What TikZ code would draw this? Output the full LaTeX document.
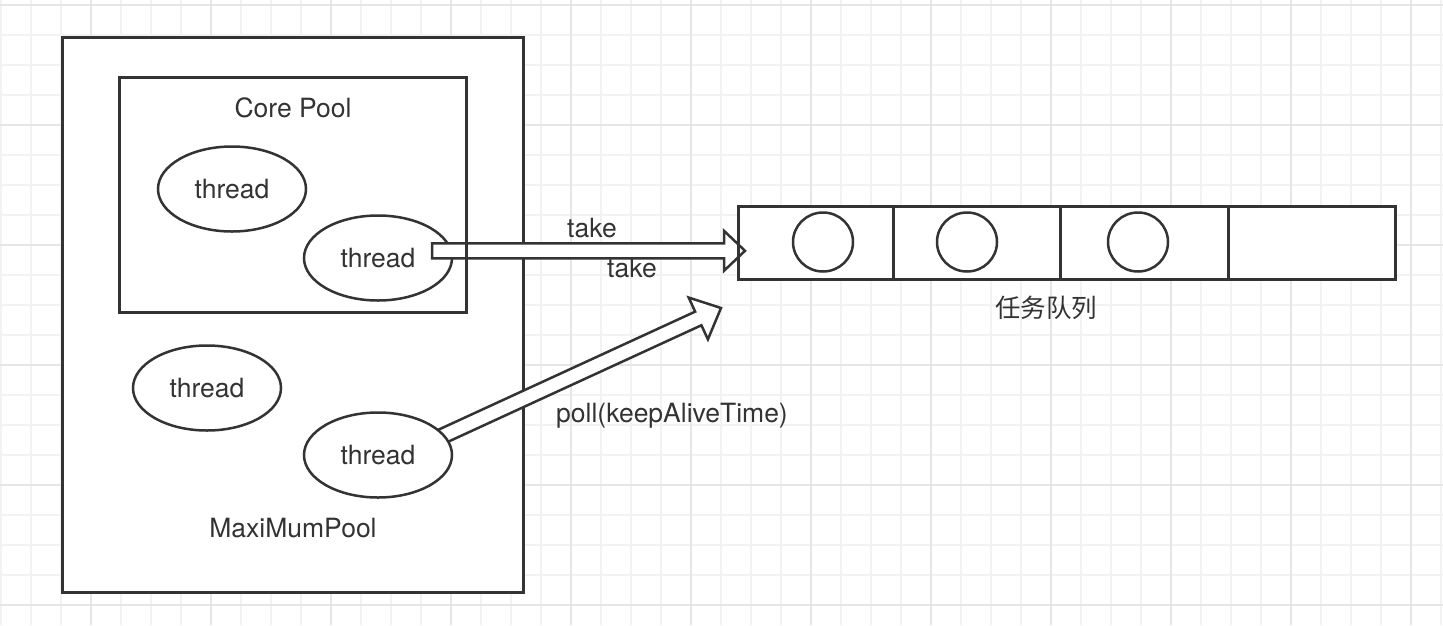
\documentclass[tikz,border=0pt]{standalone}
\usepackage{fontspec}
\setmainfont{TeX Gyre Heros}
\newfontfamily\cjkfont{Noto Sans CJK SC}
\usetikzlibrary{shapes.geometric,calc}
\definecolor{ink}{HTML}{333333}
\definecolor{gridminor}{HTML}{F2F2F2}
\definecolor{gridmajor}{HTML}{E6E6E6}
\newcommand\lblfont{\fontsize{26.5}{30}\selectfont}
% #1 start, #2 tip, #3 half shaft, #4 half head, #5 head length, #6 helper name
\newcommand\blockarrow[6]{%
  \coordinate (#6) at ($(#2)!#5!(#1)$);
  \draw[blk] ($(#1)!#3!90:(#2)$) -- ($(#6)!#3!-90:(#1)$) -- ($(#6)!#4!-90:(#1)$)
    -- (#2) -- ($(#6)!#4!90:(#1)$) -- ($(#6)!#3!90:(#1)$) -- ($(#1)!#3!-90:(#2)$) -- cycle;
}
\begin{document}
\begin{tikzpicture}[x=1pt,y=-1pt,
  box/.style={draw=ink,line width=3pt,fill=white,rectangle,inner sep=0pt,outer sep=0pt},
  boxline/.style={draw=ink,line width=3pt},
  thr/.style={draw=ink,line width=2.5pt,fill=white,ellipse,inner sep=0pt,outer sep=0pt,
    minimum width=148pt,minimum height=85pt,text=ink,font=\lblfont},
  lbl/.style={text=ink,font=\lblfont,inner sep=0pt},
  cell/.style={draw=ink,line width=3pt,fill=white,rectangle,inner sep=0pt,outer sep=0pt,minimum height=73pt},
  slot/.style={draw=ink,line width=2.5pt,ellipse,minimum width=60pt,minimum height=59pt,inner sep=0pt},
  blk/.style={draw=ink,line width=2.5pt,fill=white,line join=miter}
]
\useasboundingbox (0,0) rectangle (1443,625);
\fill[white] (0,0) rectangle (1443,625);
% grid
\foreach \x in {1,31,...,1441} \draw[gridminor,line width=2pt] (\x,0) -- (\x,625);
\foreach \y in {5,35,...,605} \draw[gridminor,line width=2pt] (0,\y) -- (1443,\y);
\foreach \x in {91,211,...,1411} \draw[gridmajor,line width=2pt] (\x,0) -- (\x,625);
\foreach \y in {5,125,...,605} \draw[gridmajor,line width=2pt] (0,\y) -- (1443,\y);

% pools
\node[box,minimum width=461pt,minimum height=555pt] (maxpool) at (292.5,314.5) {};
\node[box,minimum width=347pt,minimum height=235pt] (corepool) at (292.5,194.5) {};
\node[lbl] (corelbl) at (293,108) {Core Pool};
\node[thr] (t1) at (232,189) {thread};
\node[thr] (t2) at (378,258) {thread};
\node[thr] (t3) at (207,388) {thread};
\node[lbl] (maxlbl) at (293,528) {MaxiMumPool};

% queue
\node[cell,minimum width=155pt] (c1) at (815.5,242.5) {};
\node[cell,minimum width=167pt] (c2) at (976.5,242.5) {};
\node[cell,minimum width=168pt] (c3) at (1144,242.5) {};
\node[cell,minimum width=167pt] (c4) at (1311.5,242.5) {};
\node[slot] (s1) at (823,242) {};
\node[slot] (s2) at (967,242) {};
\node[slot] (s3) at (1138,242) {};
\node[text=ink,font={\cjkfont\fontsize{25.5}{30}\selectfont},inner sep=0pt] (qlbl) at (1046,308) {任务队列};

% arrows
\coordinate (a1s) at (432,250.8);
\coordinate (a1e) at (745,250.8);
\blockarrow{a1s}{a1e}{7.5pt}{20pt}{21pt}{hb1}
\coordinate (a2s) at (440.5,437);
\coordinate (a2e) at (721,308);
\blockarrow{a2s}{a2e}{7.5pt}{23pt}{25pt}{hb2}
\node[thr] (t4) at (378,455) {thread};

% borders lying over the arrows
\draw[boxline] (corepool.north west) rectangle (corepool.south east);
\draw[boxline] (c1.north west) rectangle (c1.south east);

% labels
\node[lbl] (take1) at (592,228) {take};
\node[lbl] (take2) at (632,268) {take};
\node[lbl] (polllbl) at (672,416) {poll(keepAliveTime)};
\end{tikzpicture}
\end{document}
